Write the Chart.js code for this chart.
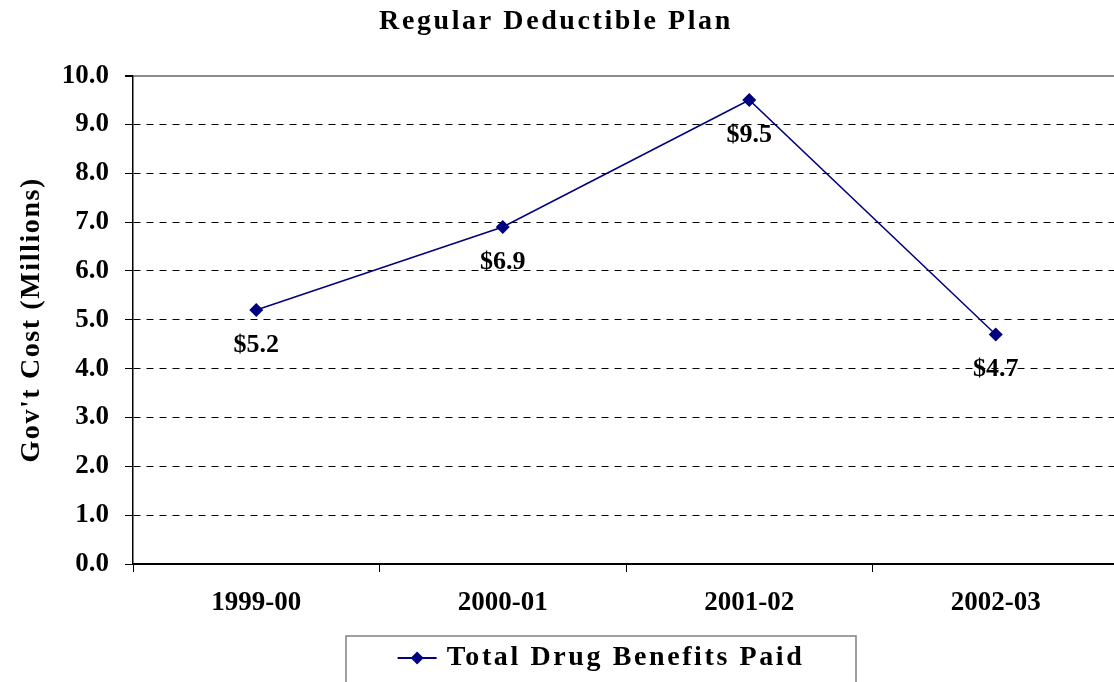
<!DOCTYPE html>
<html>
<head>
<meta charset="utf-8">
<script src="https://cdn.jsdelivr.net/npm/chart.js@4/dist/chart.umd.min.js"></script>
<style>
html,body{margin:0;padding:0;background:#fff;overflow:hidden;}
#wrap{position:relative;width:1126px;height:682px;}
</style>
</head>
<body>
<div id="wrap"><canvas id="c"></canvas></div>
<script>
const categories = ["1999-00", "2000-01", "2001-02", "2002-03"];
const drugBenefits = [5.2, 6.9, 9.5, 4.7];
const seriesName = "Total Drug Benefits Paid";
const chartTitle = "Regular Deductible Plan";
const yTitle = "Gov't Cost (Millions)";

const FONT = "'Liberation Serif','Times New Roman',serif";
const NAVY = "#000080";
const LEGEND_CENTER = 601;
const TITLE_CENTER = 556;

// run a drawing/measuring method with a given canvas letter spacing
function spaced(obj, method, sp, dx) {
  if (!obj || obj['__sp_' + method]) return;
  const orig = obj[method];
  obj[method] = function (...args) {
    const ctx = this.ctx;
    const prev = ctx.letterSpacing;
    ctx.save();
    ctx.letterSpacing = sp;
    if (dx) ctx.translate(dx(this), 0);
    try { return orig.apply(this, args); }
    finally { ctx.restore(); ctx.letterSpacing = prev; }
  };
  obj['__sp_' + method] = true;
}

const spacingPatch = {
  id: 'spacingPatch',
  afterInit(chart) {
    spaced(chart.titleBlock, 'draw', '2.6px', (tb) => TITLE_CENTER - (tb.left + tb.right) / 2);
    spaced(chart.legend, 'fit', '2.6px');
    spaced(chart.legend, 'draw', '2.6px', (lg) => LEGEND_CENTER - (lg.left + lg.right) / 2);
  },
  beforeLayout(chart) {
    spaced(chart.scales.y, 'drawTitle', '1.6px');
  }
};

const dataLabels = {
  id: 'dataLabels',
  afterDatasetsDraw(chart) {
    const ctx = chart.ctx;
    const meta = chart.getDatasetMeta(0);
    ctx.save();
    ctx.font = "bold 26px " + FONT;
    ctx.fillStyle = "#000";
    ctx.textAlign = "center";
    ctx.textBaseline = "alphabetic";
    meta.data.forEach((pt, i) => {
      ctx.fillText("$" + drugBenefits[i].toFixed(1), pt.x, pt.y + 42);
    });
    ctx.restore();
  }
};

const legendDecor = {
  id: 'legendDecor',
  afterDraw(chart) {
    const lg = chart.legend;
    if (!lg || !lg.legendHitBoxes || !lg.legendHitBoxes.length) return;
    const hb = lg.legendHitBoxes[0];
    const ctx = chart.ctx;
    const left = LEGEND_CENTER - hb.width / 2;
    const cy = lg.top + lg.options.labels.padding + hb.height / 2;
    ctx.save();
    ctx.strokeStyle = NAVY;
    ctx.lineWidth = 2;
    ctx.beginPath();
    ctx.moveTo(left, cy); ctx.lineTo(left + 39, cy);
    ctx.stroke();
    const cx = left + 19.5;
    ctx.fillStyle = NAVY;
    ctx.beginPath();
    ctx.moveTo(cx, cy - 6.5); ctx.lineTo(cx + 6.5, cy); ctx.lineTo(cx, cy + 6.5); ctx.lineTo(cx - 6.5, cy); ctx.closePath();
    ctx.fill();
    ctx.strokeStyle = "#808080";
    ctx.lineWidth = 1.5;
    ctx.strokeRect(LEGEND_CENTER - 255, lg.top + 2, 510, 70);
    ctx.restore();
  }
};

new Chart(document.getElementById('c'), {
  type: 'line',
  data: {
    labels: categories,
    datasets: [{
      label: seriesName,
      data: drugBenefits,
      borderColor: NAVY,
      backgroundColor: NAVY,
      borderWidth: 1.5,
      pointStyle: 'rectRot',
      pointRadius: 7,
      pointHoverRadius: 7,
      pointBackgroundColor: NAVY,
      pointBorderColor: NAVY,
      pointBorderWidth: 0,
      tension: 0,
      fill: false
    }]
  },
  options: {
    responsive: true,
    maintainAspectRatio: false,
    animation: false,
    layout: { padding: { left: 0, right: 0, top: 0, bottom: 0 } },
    plugins: {
      title: {
        display: true,
        text: chartTitle,
        color: "#000",
        font: { family: FONT, size: 28, weight: 'bold', lineHeight: 1.2 },
        padding: { top: 5, bottom: 37 }
      },
      legend: {
        display: true,
        position: 'bottom',
        labels: {
          color: "#000",
          font: { family: FONT, size: 28, weight: 'bold' },
          boxWidth: 35,
          boxHeight: 0,
          padding: 10,
          generateLabels: () => [{
            text: seriesName,
            fillStyle: 'rgba(0,0,0,0)',
            strokeStyle: 'rgba(0,0,0,0)',
            lineWidth: 0,
            hidden: false,
            datasetIndex: 0
          }]
        }
      },
      tooltip: { enabled: false }
    },
    scales: {
      x: {
        offset: true,
        afterFit: (scale) => {
          const lgH = scale.chart.legend ? scale.chart.legend.height : 48;
          scale.height = (682 - 564) - lgH;
        },
        grid: {
          offset: true,
          drawOnChartArea: false,
          drawTicks: true,
          tickLength: 8,
          tickColor: "#000",
          tickWidth: 1
        },
        border: { display: true, color: "#000", width: 1.5 },
        ticks: {
          color: "#000",
          font: { family: FONT, size: 27, weight: 'bold' },
          padding: 15,
          maxRotation: 0
        }
      },
      y: {
        min: 0,
        max: 10,
        afterFit: (scale) => { scale.width = 133; },
        ticks: {
          stepSize: 1,
          color: "#000",
          font: { family: FONT, size: 27, weight: 'bold' },
          padding: 16,
          callback: (v) => Number(v).toFixed(1)
        },
        grid: {
          color: (c) => (c.tick && c.tick.value === 10) ? "#8c8c8c" : "#000",
          lineWidth: (c) => (c.tick && c.tick.value === 10) ? 2 : 1,
          drawTicks: true,
          tickLength: 8,
          tickColor: "#000"
        },
        border: {
          display: true,
          color: "#000",
          width: 1.5,
          dash: (c) => (c.tick && (c.tick.value === 10 || c.tick.value === 0)) ? [] : [7, 6]
        },
        title: {
          display: true,
          text: yTitle,
          color: "#000",
          font: { family: FONT, size: 28, weight: 'bold', lineHeight: 1.2 },
          padding: { top: 15, bottom: 0 }
        }
      }
    }
  },
  plugins: [spacingPatch, dataLabels, legendDecor]
});
</script>
</body>
</html>
